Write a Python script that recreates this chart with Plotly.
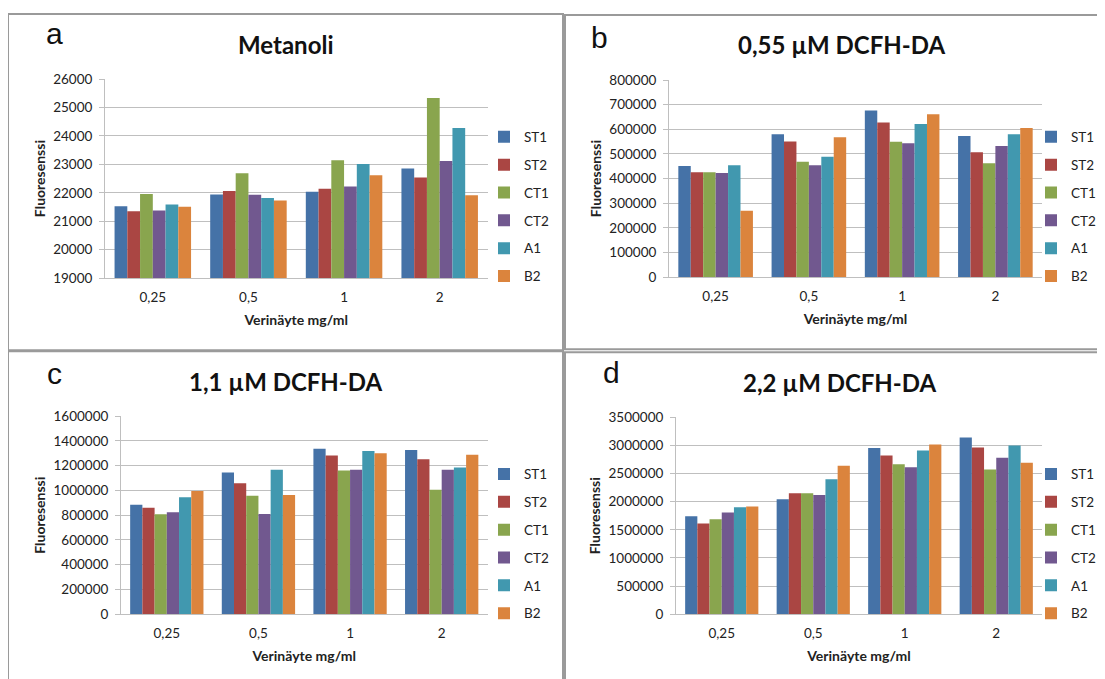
import plotly.graph_objects as go

# observed page placement: figure starts 8px from the left and ~16px from the top,
# and its vertical extent appears ~0.976 in the photographed window
LEFT, TOP, YS = 8, 16, 0.976
W, H = 1105, 679

categories = ["0,25", "0,5", "1", "2"]
series = ["ST1", "ST2", "CT1", "CT2", "A1", "B2"]
colors = ["#4572A7", "#AA4643", "#89A54E", "#71588F", "#4198AF", "#DB843D"]

# rows follow `series`, columns follow `categories`
metanoli = [
    [21530, 21940, 22035, 22850],
    [21350, 22060, 22140, 22540],
    [21960, 22690, 23140, 25330],
    [21380, 21930, 22220, 23120],
    [21590, 21820, 23010, 24280],
    [21510, 21730, 22620, 21910],
]
dcfh_055 = [
    [451000, 580000, 676000, 573000],
    [426000, 550000, 628000, 507000],
    [426000, 468000, 549000, 462000],
    [423000, 454000, 543000, 532000],
    [454000, 489000, 622000, 580000],
    [269000, 568000, 661000, 605000],
]
dcfh_11 = [
    [885000, 1145000, 1336000, 1326000],
    [860000, 1059000, 1283000, 1253000],
    [807000, 957000, 1162000, 1006000],
    [825000, 809000, 1167000, 1167000],
    [946000, 1167000, 1318000, 1186000],
    [995000, 963000, 1301000, 1288000],
]
dcfh_22 = [
    [1741000, 2042000, 2951000, 3140000],
    [1611000, 2148000, 2821000, 2963000],
    [1688000, 2148000, 2662000, 2573000],
    [1806000, 2119000, 2609000, 2780000],
    [1900000, 2396000, 2910000, 2998000],
    [1912000, 2638000, 3016000, 2691000],
]

titles = ["Metanoli", "0,55 µM DCFH-DA", "1,1 µM DCFH-DA", "2,2 µM DCFH-DA"]
letters = ["a", "b", "c", "d"]
y_ranges = [(19000, 26000), (0, 800000), (0, 1600000), (0, 3500000)]
y_dticks = [1000, 100000, 200000, 500000]
x_title = "Verinäyte mg/ml"
y_title = "Fluoresenssi"
panels = [metanoli, dcfh_055, dcfh_11, dcfh_22]

# window-pixel layout of each panel: plot left, right, top, bottom
boxes = [
    (105, 487.5, 79, 278),
    (669, 1042, 80, 277),
    (121, 487.5, 416, 614),
    (676, 1042, 417, 614),
]
title_pos = [(286, 44), (841, 44), (286, 381), (840, 382)]
letter_pos = [(54, 33), (599, 37), (54, 373), (612, 372)]
legend_pos = [(484, 121.5), (1031, 121.5), (484, 458.5), (1031, 458.5)]

px = lambda x: (x - LEFT) / W
py = lambda y: 1 - ((y - TOP) / YS) / H

FONT = "Lato, 'Open Sans', sans-serif"
GRID = "#BFBFBF"

fig = go.Figure()
layout = dict(
    width=W, height=H, autosize=False,
    margin=dict(l=0, r=0, t=0, b=0),
    paper_bgcolor="white", plot_bgcolor="white",
    barmode="group", bargap=0.2, bargroupgap=0,
    font=dict(family=FONT, size=13.5, color="#222"),
    annotations=[], shapes=[],
)

for i, vals in enumerate(panels):
    n = i + 1
    xa = "x" if n == 1 else f"x{n}"
    ya = "y" if n == 1 else f"y{n}"
    lg = "legend" if n == 1 else f"legend{n}"
    for s, name in enumerate(series):
        fig.add_trace(go.Bar(
            x=categories, y=vals[s], name=name,
            marker=dict(color=colors[s], line=dict(width=0)),
            xaxis=xa, yaxis=ya, legend=lg, legendgroup=f"{i}_{name}",
        ))
    l, r, t, b = boxes[i]
    xkey = "xaxis" if n == 1 else f"xaxis{n}"
    ykey = "yaxis" if n == 1 else f"yaxis{n}"
    layout[xkey] = dict(
        domain=[px(l), px(r)], anchor=ya, type="category",
        showline=True, linecolor=GRID, linewidth=1, showgrid=False,
        ticks="", ticklabelstandoff=7,
        tickfont=dict(size=13.5, color="#222"),
        title=dict(text=f"<b>{x_title}</b>", font=dict(size=14, color="#222"), standoff=10),
        fixedrange=True,
    )
    layout[ykey] = dict(
        domain=[py(b), py(t)], anchor=xa,
        range=list(y_ranges[i]), dtick=y_dticks[i], tick0=0,
        showline=True, linecolor=GRID, linewidth=1,
        showgrid=True, gridcolor=GRID, gridwidth=1,
        ticks="outside", ticklen=5, tickcolor=GRID,
        ticklabelstandoff=4, tickformat="d",
        tickfont=dict(size=13.5, color="#222"),
        title=dict(text=f"<b>{y_title}</b>", font=dict(size=14, color="#222"), standoff=4),
        zeroline=False, fixedrange=True,
    )
    lx, ly = legend_pos[i]
    layout[lg] = dict(
        x=px(lx), y=py(ly), xanchor="left", yanchor="top",
        font=dict(size=13.5, color="#222"), bgcolor="rgba(0,0,0,0)",
        tracegroupgap=7.3, itemclick=False, itemdoubleclick=False,
    )
    tx, ty = title_pos[i]
    layout["annotations"].append(dict(
        text=f"<b>{titles[i]}</b>", x=px(tx), y=py(ty), xref="paper", yref="paper",
        xanchor="center", yanchor="middle", showarrow=False,
        font=dict(size=24, family=FONT, color="#111"),
    ))
    cx, cy = letter_pos[i]
    layout["annotations"].append(dict(
        text=letters[i], x=px(cx), y=py(cy), xref="paper", yref="paper",
        xanchor="center", yanchor="middle", showarrow=False,
        font=dict(size=30, family="'Liberation Sans', Arial, sans-serif", color="#111"),
    ))

# panel frames
BORDER = "#9A9A9A"
frames = [(8, 14, 563, 350), (565, 15, 1130, 349), (8, 351, 563, 720), (565, 352, 1130, 720)]
for (x0, y0, x1, y1) in frames:
    layout["shapes"].append(dict(
        type="rect", xref="paper", yref="paper",
        x0=px(x0), x1=px(x1), y0=py(y1), y1=py(y0),
        line=dict(color=BORDER, width=2), fillcolor="rgba(0,0,0,0)", layer="below",
    ))

fig.update_layout(**layout)
fig.write_html("out.html", config={"displayModeBar": False})
